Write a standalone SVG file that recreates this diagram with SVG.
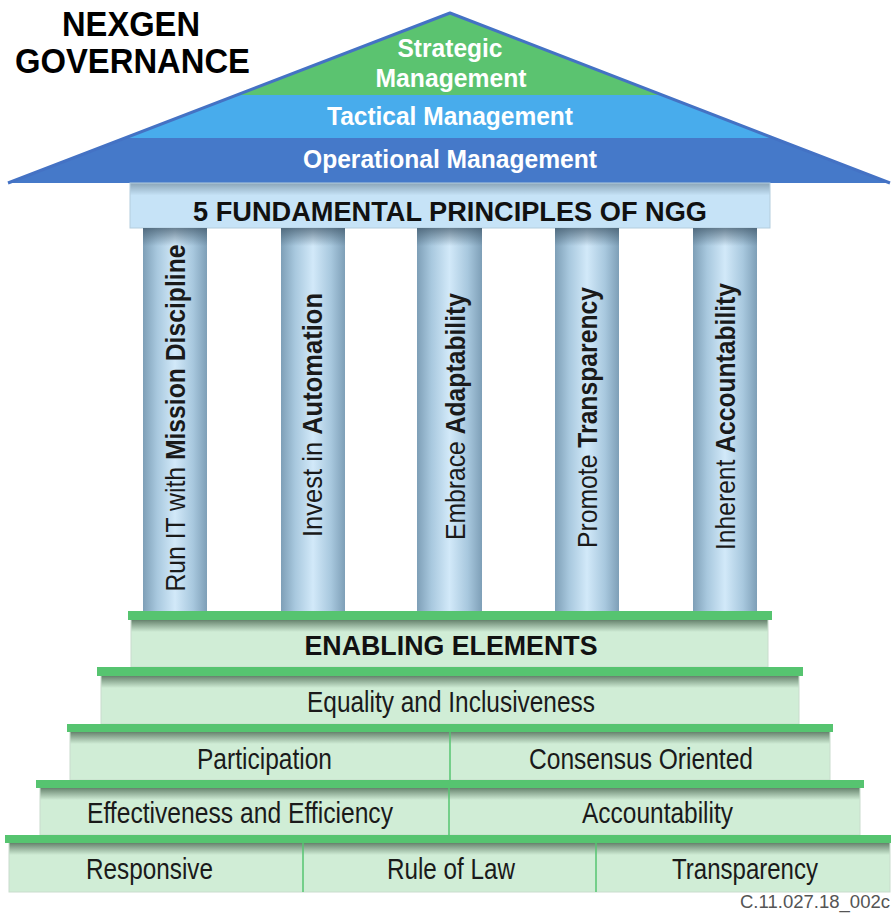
<svg xmlns="http://www.w3.org/2000/svg" width="891" height="913" viewBox="0 0 891 913">
<defs>
<linearGradient id="pillarG" x1="0" y1="0" x2="1" y2="0">
<stop offset="0" stop-color="#7e9fb7"/>
<stop offset="0.22" stop-color="#a8c8de"/>
<stop offset="0.5" stop-color="#d2e9f9"/>
<stop offset="0.78" stop-color="#a8c8de"/>
<stop offset="1" stop-color="#7e9fb7"/>
</linearGradient>
<linearGradient id="topShade" x1="0" y1="0" x2="0" y2="1">
<stop offset="0" stop-color="#3d5466" stop-opacity="0.7"/>
<stop offset="1" stop-color="#3d5466" stop-opacity="0"/>
</linearGradient>
<linearGradient id="stepShade" x1="0" y1="0" x2="0" y2="1">
<stop offset="0" stop-color="#44604b" stop-opacity="0.75"/>
<stop offset="1" stop-color="#44604b" stop-opacity="0"/>
</linearGradient>
<clipPath id="roofClip"><polygon points="450,13 8,183 890,183"/></clipPath>
</defs>
<style>
.lbl{font-family:"Liberation Sans",Arial,sans-serif;font-size:30px;fill:#1a1a1a}
.bold{font-weight:bold}
.roof{font-family:"Liberation Sans",Arial,sans-serif;font-weight:bold;font-size:25px;fill:#ffffff}
.pil{font-family:"Liberation Sans",Arial,sans-serif;font-size:28px;fill:#1a1a1a}
.band{fill:#56c470}
.stepbox{fill:#d0edd6;stroke:#c9dccd;stroke-width:1}
.pillar{fill:url(#pillarG)}
.shade{fill:url(#topShade)}
.sshade{fill:url(#stepShade)}
.div{stroke:#56c470;stroke-width:1.5}
</style>

<g id="title">
<text x="62" y="36" class="lbl bold" font-size="35" textLength="138" lengthAdjust="spacingAndGlyphs" style="font-size:35px;fill:#000">NEXGEN</text>
<text x="15" y="73" class="lbl bold" textLength="235" lengthAdjust="spacingAndGlyphs" style="font-size:35px;fill:#000">GOVERNANCE</text>
</g>

<g id="roof">
<g clip-path="url(#roofClip)">
<rect x="0" y="0" width="891" height="95" fill="#5bc370"/>
<rect x="0" y="95" width="891" height="43" fill="#48acec"/>
<rect x="0" y="138" width="891" height="45" fill="#4579c9"/>
</g>
<polyline points="8,183 450,13 890,183" fill="none" stroke="#4472c4" stroke-width="3" stroke-linejoin="round"/>
<text x="450" y="57" class="roof" text-anchor="middle" textLength="105" lengthAdjust="spacingAndGlyphs">Strategic</text>
<text x="451" y="87" class="roof" text-anchor="middle" textLength="151" lengthAdjust="spacingAndGlyphs">Management</text>
<text x="450" y="125" class="roof" text-anchor="middle" textLength="246" lengthAdjust="spacingAndGlyphs">Tactical Management</text>
<text x="450" y="168" class="roof" text-anchor="middle" textLength="294" lengthAdjust="spacingAndGlyphs">Operational Management</text>
</g>

<g id="beam">
<rect x="130" y="183" width="640" height="45" fill="#c6e3f7" stroke="#b4cddd" stroke-width="1"/>
<rect x="130.5" y="183.5" width="639" height="12" class="shade" opacity="0.6"/>
<text x="450" y="221" class="lbl bold" text-anchor="middle" textLength="514" lengthAdjust="spacingAndGlyphs" style="font-size:27px;fill:#111">5 FUNDAMENTAL PRINCIPLES OF NGG</text>
</g>

<g id="pillar1">
<rect x="143" y="228" width="64" height="383" class="pillar"/>
<rect x="143" y="228" width="64" height="18" class="shade"/>
<text transform="translate(185,418) rotate(-90)" class="pil" text-anchor="middle" textLength="347" lengthAdjust="spacingAndGlyphs">Run IT with <tspan class="bold">Mission Discipline</tspan></text>
</g>
<g id="pillar2">
<rect x="281" y="228" width="64" height="383" class="pillar"/>
<rect x="281" y="228" width="64" height="18" class="shade"/>
<text transform="translate(322,415) rotate(-90)" class="pil" text-anchor="middle" textLength="244" lengthAdjust="spacingAndGlyphs">Invest in <tspan class="bold">Automation</tspan></text>
</g>
<g id="pillar3">
<rect x="417" y="228" width="65" height="383" class="pillar"/>
<rect x="417" y="228" width="65" height="18" class="shade"/>
<text transform="translate(465,416.5) rotate(-90)" class="pil" text-anchor="middle" textLength="247" lengthAdjust="spacingAndGlyphs">Embrace <tspan class="bold">Adaptability</tspan></text>
</g>
<g id="pillar4">
<rect x="555" y="228" width="64" height="383" class="pillar"/>
<rect x="555" y="228" width="64" height="18" class="shade"/>
<text transform="translate(597,417.5) rotate(-90)" class="pil" text-anchor="middle" textLength="261" lengthAdjust="spacingAndGlyphs">Promote <tspan class="bold">Transparency</tspan></text>
</g>
<g id="pillar5">
<rect x="693" y="228" width="64" height="383" class="pillar"/>
<rect x="693" y="228" width="64" height="18" class="shade"/>
<text transform="translate(735,416.5) rotate(-90)" class="pil" text-anchor="middle" textLength="267" lengthAdjust="spacingAndGlyphs">Inherent <tspan class="bold">Accountability</tspan></text>
</g>

<g id="step1">
<rect x="131" y="620" width="637" height="47" class="stepbox"/>
<rect x="131.5" y="620" width="636" height="12" class="sshade"/>
<rect x="128" y="611" width="644" height="9" class="band"/>
<text x="451" y="655" class="lbl bold" text-anchor="middle" textLength="293" lengthAdjust="spacingAndGlyphs" style="font-size:27px;fill:#111">ENABLING ELEMENTS</text>
</g>
<g id="step2">
<rect x="101" y="676" width="698" height="48" class="stepbox"/>
<rect x="101.5" y="676" width="697" height="12" class="sshade"/>
<rect x="97" y="667" width="706" height="9" class="band"/>
<text x="451" y="712" class="lbl" text-anchor="middle" textLength="288" lengthAdjust="spacingAndGlyphs">Equality and Inclusiveness</text>
</g>
<g id="step3">
<rect x="70" y="732" width="760" height="48" class="stepbox"/>
<rect x="70.5" y="732" width="759" height="12" class="sshade"/>
<rect x="67" y="724" width="766" height="8" class="band"/>
<line x1="450" y1="732" x2="450" y2="780" class="div"/>
<text x="264.5" y="769" class="lbl" text-anchor="middle" textLength="135" lengthAdjust="spacingAndGlyphs">Participation</text>
<text x="641" y="769" class="lbl" text-anchor="middle" textLength="224" lengthAdjust="spacingAndGlyphs">Consensus Oriented</text>
</g>
<g id="step4">
<rect x="40" y="788" width="820" height="47" class="stepbox"/>
<rect x="40.5" y="788" width="819" height="12" class="sshade"/>
<rect x="36" y="780" width="828" height="8" class="band"/>
<line x1="449" y1="788" x2="449" y2="835" class="div"/>
<text x="240" y="823" class="lbl" text-anchor="middle" textLength="306" lengthAdjust="spacingAndGlyphs">Effectiveness and Efficiency</text>
<text x="657.5" y="823" class="lbl" text-anchor="middle" textLength="151" lengthAdjust="spacingAndGlyphs">Accountability</text>
</g>
<g id="step5">
<rect x="9" y="843" width="881" height="49" class="stepbox"/>
<rect x="9.5" y="843" width="880" height="12" class="sshade"/>
<rect x="5" y="835" width="886" height="8" class="band"/>
<line x1="303" y1="843" x2="303" y2="892" class="div"/>
<line x1="596" y1="843" x2="596" y2="892" class="div"/>
<text x="149.5" y="879" class="lbl" text-anchor="middle" textLength="127" lengthAdjust="spacingAndGlyphs">Responsive</text>
<text x="451" y="879" class="lbl" text-anchor="middle" textLength="128" lengthAdjust="spacingAndGlyphs">Rule of Law</text>
<text x="745" y="879" class="lbl" text-anchor="middle" textLength="146" lengthAdjust="spacingAndGlyphs">Transparency</text>
</g>

<g id="connectors"/>

<text x="890" y="908" text-anchor="end" textLength="150" lengthAdjust="spacingAndGlyphs" style="font-family:'Liberation Sans',Arial,sans-serif;font-size:18px;fill:#555">C.11.027.18_002c</text>
</svg>
